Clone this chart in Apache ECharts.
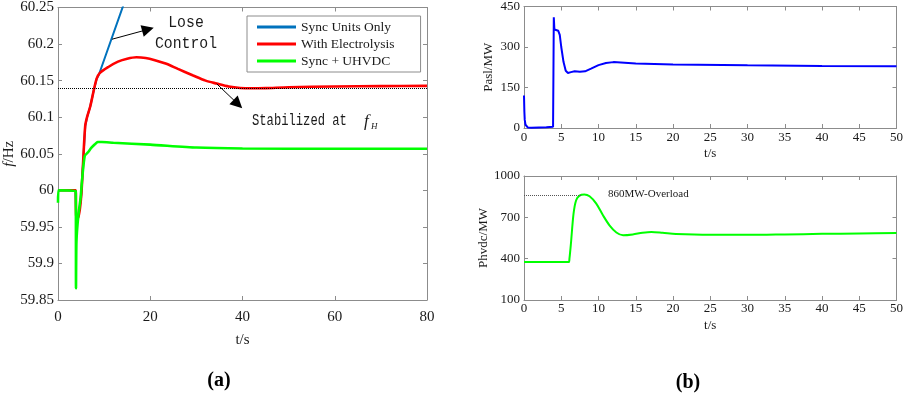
<!DOCTYPE html>
<html><head><meta charset="utf-8">
<script src="https://cdn.jsdelivr.net/npm/echarts@6/dist/echarts.min.js"></script>
<style>html,body{margin:0;padding:0;background:#fff}#c{width:906px;height:396px}</style>
</head><body><div id="c"></div>
<script>
// ---------- (a) frequency ----------
const legendNames = ['Sync Units Only', 'With Electrolysis', 'Sync + UHVDC'];
const tSync  = [0, 3.8, 3.95, 4.35, 5.0, 5.4, 5.9, 6.3, 7.0, 7.8, 8.4, 8.8, 15];
const fSync  = [60.0, 60.0, 59.965, 59.962, 59.99, 60.033, 60.088, 60.1, 60.115, 60.138, 60.153, 60.157, 60.268];
const tElec  = [0, 3.8, 3.95, 4.35, 5.0, 5.4, 5.9, 6.3, 7.0, 7.8, 8.4, 9.0, 11, 13, 15, 17, 19, 21, 23.5, 26, 29.3, 32, 34.4, 37, 39.5, 42, 45, 50, 60, 70, 80];
const fElec  = [60.0, 60.0, 59.965, 59.962, 59.99, 60.033, 60.088, 60.1, 60.115, 60.138, 60.153, 60.16, 60.169, 60.176, 60.180, 60.182, 60.181, 60.178, 60.173, 60.166, 60.157, 60.15, 60.146, 60.142, 60.140, 60.1395, 60.1398, 60.141, 60.142, 60.1425, 60.1428];
const tHvdc  = [0, 0.1, 3.85, 3.9, 4.0, 4.4, 4.9, 5.3, 5.8, 6.5, 7.2, 8.0, 8.6, 9.5, 12, 20, 30, 40, 60, 80];
const fHvdc  = [59.983, 60.0, 59.999, 59.866, 59.93, 59.965, 59.99, 60.02, 60.047, 60.052, 60.058, 60.063, 60.066, 60.066, 60.065, 60.0625, 60.0585, 60.0572, 60.0568, 60.0568];
const fH = 60.141;
const aXTicks = [0, 80, 20];          // min, max, interval
const aYTicks = [59.85, 60.25, 0.05];
const arrowLose = [[11.7, 60.2066], [19.5, 60.220]];
const arrowStab = [[34.4, 60.1457], [39.0, 60.118]];

// ---------- (b) powers ----------
const tPasl = [0, 0.05, 0.1, 0.2, 0.3, 0.5, 0.7, 1, 2, 3, 3.9, 3.95, 4.0, 4.08, 4.3, 4.6, 4.8, 5.0, 5.3, 5.6, 5.9, 6.3, 6.8, 7.5, 8.2, 9, 10, 11, 12, 13, 15, 20, 30, 40, 50];
const pPasl = [120, 60, 30, 12, 5, 2, 0, 1, 2, 3, 5, 200, 410, 365, 363, 360, 345, 300, 245, 212, 204, 207, 210, 208, 210, 220, 233, 241, 244, 243, 239, 235, 232, 230, 229];
const tHv = [0, 6.0, 6.1, 6.3, 6.65, 7.0, 7.45, 8.1, 8.8, 9.7, 10.6, 11.5, 12.4, 13.3, 14.6, 15.9, 17.1, 18.6, 20.4, 25, 30, 35, 40, 45, 50];
const pHv = [375, 375, 400, 510, 727, 824, 858, 866, 853, 800, 715, 640, 590, 570, 576, 588, 594, 588, 579, 573, 573, 576, 580, 583, 586];
const overload = 860, overloadEndT = 7.7;
const bXTicks = [0, 50, 5];
const bYTop = [0, 450, 150];
const bYBot = [100, 1000, 300];

const zip = (a, b) => a.map((v, i) => [v, b[i]]);
const serif = 'Liberation Serif';
const axisCol = '#8c8c8c';
const txt = '#1a1a1a';

function xAx(grid, r, pos, fs, name, gap, margin, show) {
  return {
    type: 'value', gridIndex: grid, position: pos, min: r[0], max: r[1], interval: r[2],
    axisLine: {show: true, onZero: false, lineStyle: {color: axisCol, width: 1}},
    axisTick: {show: true, inside: true, length: 4, lineStyle: {color: axisCol}},
    axisLabel: {show: show, color: txt, fontFamily: serif, fontSize: fs, margin: margin},
    splitLine: {show: false},
    name: show ? name : '', nameLocation: 'middle', nameGap: gap,
    nameTextStyle: {color: txt, fontFamily: serif, fontSize: fs}
  };
}
function yAx(grid, r, pos, fs, name, gap, margin, show, fmt, rich) {
  return {
    type: 'value', gridIndex: grid, position: pos, min: r[0], max: r[1], interval: r[2],
    axisLine: {show: true, onZero: false, lineStyle: {color: axisCol, width: 1}},
    axisTick: {show: true, inside: true, length: 4, lineStyle: {color: axisCol}},
    axisLabel: {show: show, color: txt, fontFamily: serif, fontSize: fs, margin: margin, formatter: fmt || (v => String(v))},
    splitLine: {show: false},
    name: show ? name : '', nameLocation: 'middle', nameGap: gap, nameRotate: 90,
    nameTextStyle: {color: txt, fontFamily: serif, fontSize: fs, rich: rich || {}}
  };
}
const fmtF = v => String(parseFloat(v.toFixed(2)));

const chart = echarts.init(document.getElementById('c'), null, {renderer: 'canvas'});
chart.setOption({
  animation: false,
  backgroundColor: '#fff',
  grid: [
    {left: 58, top: 5, width: 369, height: 295},
    {left: 524, top: 5, width: 373, height: 123},
    {left: 524, top: 176, width: 373, height: 124}
  ],
  xAxis: [
    xAx(0, aXTicks, 'bottom', 15, 't/s', 33, 10, true),
    xAx(0, aXTicks, 'top', 15, '', 0, 0, false),
    xAx(1, bXTicks, 'bottom', 13, 't/s', 19, 3, true),
    xAx(1, bXTicks, 'top', 13, '', 0, 0, false),
    xAx(2, bXTicks, 'bottom', 13, 't/s', 19, 2, true),
    xAx(2, bXTicks, 'top', 13, '', 0, 0, false)
  ],
  yAxis: [
    yAx(0, aYTicks, 'left', 15, '{i|f}/Hz', 40, 4, true, fmtF, {i: {fontStyle: 'italic', fontFamily: serif, fontSize: 15, color: txt}}),
    yAx(0, aYTicks, 'right', 15, '', 0, 0, false),
    yAx(1, bYTop, 'left', 13, 'Pasl/MW', 29, 4, true),
    yAx(1, bYTop, 'right', 13, '', 0, 0, false),
    yAx(2, bYBot, 'left', 13, 'Phvdc/MW', 29, 4, true),
    yAx(2, bYBot, 'right', 13, '', 0, 0, false)
  ],
  legend: {
    orient: 'vertical', left: 247, top: 16,
    data: legendNames,
    icon: 'rect', itemWidth: 39, itemHeight: 3, itemGap: 3,
    padding: [4, 26, 4, 10],
    borderColor: axisCol, borderWidth: 1, backgroundColor: '#fff',
    textStyle: {color: txt, fontFamily: serif, fontSize: 13.5, lineHeight: 14},
    selectedMode: false
  },
  series: [
    {name: legendNames[0], type: 'line', xAxisIndex: 0, yAxisIndex: 0, data: zip(tSync, fSync),
     showSymbol: false, symbol: 'none', clip: true, color: '#0072bd', lineStyle: {width: 2, color: '#0072bd'}},
    {name: legendNames[1], type: 'line', xAxisIndex: 0, yAxisIndex: 0, data: zip(tElec, fElec),
     smooth: 0.3, showSymbol: false, symbol: 'none', color: '#ff0000', lineStyle: {width: 2.6, color: '#ff0000'},
     markLine: {silent: true, animation: false, symbol: ['none', 'none'], label: {show: false},
       lineStyle: {type: 'dotted', color: '#000', width: 1},
       data: [{yAxis: fH}]}},
    {name: legendNames[2], type: 'line', xAxisIndex: 0, yAxisIndex: 0, data: zip(tHvdc, fHvdc),
     smooth: 0.2, showSymbol: false, symbol: 'none', color: '#00ff00', lineStyle: {width: 2.6, color: '#00ff00'},
     markLine: {silent: true, animation: false, symbol: ['none', 'triangle'], symbolSize: 12, label: {show: false},
       lineStyle: {type: 'solid', color: '#000', width: 1},
       data: [
         [{coord: arrowLose[0]}, {coord: arrowLose[1]}],
         [{coord: arrowStab[0]}, {coord: arrowStab[1]}]
       ]}},
    {name: 'Pasl', type: 'line', xAxisIndex: 2, yAxisIndex: 2, data: zip(tPasl, pPasl),
     showSymbol: false, symbol: 'none', color: '#0000ff', lineStyle: {width: 2, color: '#0000ff'}},
    {name: 'Phvdc', type: 'line', xAxisIndex: 4, yAxisIndex: 4, data: zip(tHv, pHv),
     smooth: 0.3, showSymbol: false, symbol: 'none', color: '#00ff00', lineStyle: {width: 2, color: '#00ff00'},
     markLine: {silent: true, animation: false, symbol: ['none', 'none'], label: {show: false},
       lineStyle: {type: 'dotted', color: '#555', width: 1},
       data: [[{coord: [0, overload]}, {coord: [overloadEndT, overload]}]]}}
  ],
  graphic: [
    {type: 'text', x: 186, y: 12, scaleX: 0.87, silent: true,
     style: {text: 'Lose\nControl', fill: txt, font: '17px "Liberation Mono"', textAlign: 'center', lineHeight: 21, align: 'center'}},
    {type: 'text', x: 252, y: 113, scaleX: 0.76, silent: true,
     style: {text: 'Stabilized at', fill: txt, font: '16px "Liberation Mono"'}},
    {type: 'text', x: 364, y: 113, silent: true,
     style: {text: 'f', fill: txt, font: 'italic 17px "Liberation Serif"'}},
    {type: 'text', x: 371, y: 122, silent: true,
     style: {text: 'H', fill: txt, font: 'italic 9px "Liberation Serif"'}},
    {type: 'text', x: 608, y: 189, silent: true,
     style: {text: '860MW-Overload', fill: txt, font: '11px "Liberation Serif"'}},
    {type: 'text', x: 219, y: 371, silent: true,
     style: {text: '(a)', fill: '#000', font: 'bold 20px "Liberation Serif"', textAlign: 'center'}},
    {type: 'text', x: 688, y: 373, silent: true,
     style: {text: '(b)', fill: '#000', font: 'bold 20px "Liberation Serif"', textAlign: 'center'}}
  ]
});
</script></body></html>
